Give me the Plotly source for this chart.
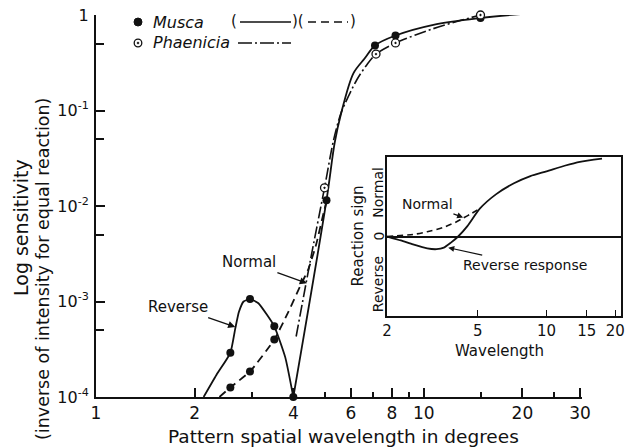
import math
import plotly.graph_objects as go

# ---------------- data ----------------
# Musca, solid curve (reverse bump, notch at 4 deg, then normal rise)
musca_solid_x = [2.13, 2.33, 2.57, 2.66, 2.73, 2.82, 2.95, 3.13, 3.32, 3.5, 3.78, 4.0,
                 5.05, 5.35, 5.6, 6.1, 6.6, 7.1, 8.2, 10.7, 14.9, 20.3, 23.0]
musca_solid_y = [1.0e-4, 1.7e-4, 2.9e-4, 5.2e-4, 7.8e-4, 1.0e-3, 1.06e-3, 9.6e-4, 7.3e-4, 5.5e-4, 2.6e-4, 1.0e-4,
                 1.15e-2, 4.6e-2, 9.4e-2, 0.245, 0.35, 0.48, 0.61, 0.79, 0.93, 1.03, 1.06]
notch_index = 11   # the sharp notch of the solid curve at 4 deg

# Musca, dashed "normal" curve
musca_dashed_x = [2.38, 2.57, 2.95, 3.5, 3.85, 4.2, 4.45, 4.7, 4.95, 5.08]
musca_dashed_y = [1.0e-4, 1.26e-4, 1.85e-4, 4.0e-4, 7.6e-4, 1.45e-3, 2.2e-3, 4.0e-3, 8.5e-3, 1.2e-2]

# Phaenicia, dash-dot curve
phaenicia_x = [4.08, 4.5, 4.98, 5.3, 5.6, 6.25, 6.7, 7.15, 8.2, 10.7, 13.0, 14.9]
phaenicia_y = [4.3e-4, 2.6e-3, 1.55e-2, 4.8e-2, 0.095, 0.21, 0.30, 0.39, 0.51, 0.72, 0.88, 1.0]

# measured points
musca_dot_x = [2.57, 2.95, 3.5, 4.0, 2.57, 2.95, 3.5, 5.05, 7.1, 8.2, 14.9, 20.3]
musca_dot_y = [2.9e-4, 1.06e-3, 5.5e-4, 1.0e-4, 1.26e-4, 1.85e-4, 4.0e-4, 1.15e-2, 0.48, 0.61, 0.93, 1.04]
phaenicia_dot_x = [4.98, 7.15, 8.2, 14.9]
phaenicia_dot_y = [1.55e-2, 0.39, 0.51, 1.0]

# inset: reaction sign vs wavelength
inset_rev_x = [2.0, 2.3, 2.6, 3.0, 3.3, 3.55, 3.8, 4.1, 4.5, 5.1, 6.0, 7.2, 8.5, 10.0, 12.0, 14.0, 17.5]
inset_rev_y = [0.0, -0.05, -0.10, -0.15, -0.16, -0.14, -0.08, 0.0, 0.13, 0.35, 0.53, 0.67, 0.76, 0.82, 0.89, 0.94, 0.98]
inset_norm_x = [2.0, 2.6, 3.0, 3.5, 4.0, 4.3, 4.7, 5.1]
inset_norm_y = [0.0, 0.025, 0.06, 0.11, 0.18, 0.23, 0.29, 0.35]

# tick labels
main_x_ticks = [1, 2, 4, 6, 8, 10, 20, 30]
main_x_minor = [3, 5, 7, 9, 15, 25]
main_y_ticks = [1e-4, 1e-3, 1e-2, 1e-1, 1]
main_y_ticktext = ["10<sup>-4</sup>", "10<sup>-3</sup>", "10<sup>-2</sup>", "10<sup>-1</sup>", "1"]
main_y_minor = [5e-4, 5e-3, 5e-2, 0.5]
inset_x_ticks = [2, 5, 10, 15, 20]

# ---------------- styling ----------------
INK = "#111111"
FONT = "DejaVu Sans"
W_FIG, H_FIG = 634, 447
PL, PR, PT, PB = 96, 625, 15, 397          # plot-area pixel box
PW, PH = PR - PL, PB - PT


def pxx(px):
    return (px - PL) / PW


def pxy(py):
    return (PB - py) / PH


fig = go.Figure()

# solid curve drawn in two smooth pieces that meet at the sharp notch
fig.add_trace(go.Scatter(x=musca_solid_x[:notch_index + 1], y=musca_solid_y[:notch_index + 1], mode="lines",
                         line=dict(color=INK, width=1.8, shape="spline", smoothing=0.5),
                         cliponaxis=False, showlegend=False))
fig.add_trace(go.Scatter(x=musca_solid_x[notch_index:], y=musca_solid_y[notch_index:], mode="lines",
                         line=dict(color=INK, width=1.8, shape="spline", smoothing=0.9),
                         cliponaxis=False, showlegend=False))
fig.add_trace(go.Scatter(x=musca_dashed_x, y=musca_dashed_y, mode="lines",
                         line=dict(color=INK, width=1.8, dash="8px,5px", shape="spline", smoothing=0.5),
                         cliponaxis=False, showlegend=False))
fig.add_trace(go.Scatter(x=phaenicia_x, y=phaenicia_y, mode="lines",
                         line=dict(color=INK, width=1.6, dash="12px,3px,2px,3px", shape="spline", smoothing=0.8),
                         cliponaxis=False, showlegend=False))
fig.add_trace(go.Scatter(x=musca_dot_x, y=musca_dot_y, mode="markers",
                         marker=dict(color=INK, size=8, symbol="circle"), cliponaxis=False, showlegend=False))
fig.add_trace(go.Scatter(x=phaenicia_dot_x, y=phaenicia_dot_y, mode="markers",
                         marker=dict(color="white", size=8, symbol="circle-dot", line=dict(color=INK, width=1.3)),
                         cliponaxis=False, showlegend=False))

# inset traces
fig.add_trace(go.Scatter(x=inset_rev_x, y=inset_rev_y, mode="lines", xaxis="x2", yaxis="y2",
                         line=dict(color=INK, width=1.8, shape="spline", smoothing=0.6), showlegend=False))
fig.add_trace(go.Scatter(x=inset_norm_x, y=inset_norm_y, mode="lines", xaxis="x2", yaxis="y2",
                         line=dict(color=INK, width=1.6, dash="6px,4px", shape="spline", smoothing=0.6),
                         showlegend=False))

fig.update_layout(
    width=W_FIG, height=H_FIG,
    margin=dict(l=PL, r=W_FIG - PR, t=PT, b=H_FIG - PB, autoexpand=False),
    paper_bgcolor="white", plot_bgcolor="white",
    font=dict(family=FONT, color=INK),
    xaxis=dict(type="log", range=[0, math.log10(30.4)], domain=[0, pxx(582)], anchor="y",
               showline=True, linecolor=INK, linewidth=2, showgrid=False, zeroline=False,
               ticks="inside", tickvals=main_x_ticks, ticktext=[str(v) for v in main_x_ticks],
               ticklen=9, tickwidth=1.5, tickcolor=INK, tickfont=dict(size=17, family=FONT),
               ticklabelstandoff=0,
               minor=dict(tickmode="array", tickvals=main_x_minor, ticks="inside", ticklen=5,
                          tickwidth=1.5, tickcolor=INK, showgrid=False)),
    yaxis=dict(type="log", range=[-4, 0], domain=[0, 1], anchor="x",
               showline=True, linecolor=INK, linewidth=2, showgrid=False, zeroline=False,
               ticks="inside", tickvals=main_y_ticks, ticktext=main_y_ticktext,
               ticklen=9, tickwidth=1.5, tickcolor=INK, tickfont=dict(size=16, family=FONT),
               ticklabelstandoff=2,
               minor=dict(tickmode="array", tickvals=main_y_minor, ticks="inside", ticklen=8,
                          tickwidth=1.5, tickcolor=INK, showgrid=False)),
    xaxis2=dict(type="log", range=[math.log10(2), math.log10(21.2)], domain=[pxx(387), pxx(621)], anchor="y2",
                showline=True, mirror=True, linecolor=INK, linewidth=1.6, showgrid=False, zeroline=False,
                ticks="inside", tickvals=inset_x_ticks, ticktext=[str(v) for v in inset_x_ticks],
                ticklen=6, tickwidth=1.4, tickcolor=INK, tickfont=dict(size=15, family=FONT),
                ticklabelstandoff=0),
    yaxis2=dict(range=[-1, 1], domain=[pxy(316), pxy(157)], anchor="x2",
                showline=True, mirror=True, linecolor=INK, linewidth=1.6, showgrid=False,
                zeroline=True, zerolinecolor=INK, zerolinewidth=1.5,
                showticklabels=False, ticks=""),
)

ann = []
# axis titles
ann.append(dict(text="Pattern spatial wavelength in degrees", xref="paper", yref="paper",
                x=pxx(343), y=pxy(436), xanchor="center", yanchor="middle",
                showarrow=False, font=dict(size=18.5)))
ann.append(dict(text="Log sensitivity", xref="paper", yref="paper",
                x=pxx(21), y=pxy(228), xanchor="center", yanchor="middle", textangle=-90,
                showarrow=False, font=dict(size=19)))
ann.append(dict(text="(inverse of intensity for equal reaction)", xref="paper", yref="paper",
                x=pxx(43), y=pxy(269), xanchor="center", yanchor="middle", textangle=-90,
                showarrow=False, font=dict(size=17.5)))

# main-curve labels with arrows
ann.append(dict(text="Reverse", xref="x", yref="y", x=math.log10(2.66), y=math.log10(5.4e-4),
                ax=-57, ay=-20, showarrow=True, arrowhead=2, arrowsize=1.1, arrowwidth=1.3,
                arrowcolor=INK, standoff=0, font=dict(size=15)))
ann.append(dict(text="Normal", xref="x", yref="y", x=math.log10(4.4), y=math.log10(1.55e-3),
                ax=-58, ay=-21, showarrow=True, arrowhead=2, arrowsize=1.1, arrowwidth=1.3,
                arrowcolor=INK, standoff=0, font=dict(size=15)))

# inset labels
ann.append(dict(text="Normal", xref="x2", yref="y2", x=math.log10(4.31), y=0.24,
                ax=-36, ay=-13, showarrow=True, arrowhead=2, arrowsize=1.0, arrowwidth=1.2,
                arrowcolor=INK, standoff=0, font=dict(size=14)))
ann.append(dict(text="Reverse response", xref="x2", yref="y2", x=math.log10(3.71), y=-0.14,
                ax=77, ay=17, showarrow=True, arrowhead=2, arrowsize=1.0, arrowwidth=1.2,
                arrowcolor=INK, standoff=0, font=dict(size=14)))
ann.append(dict(text="Wavelength", xref="x2 domain", yref="y2 domain", x=0.48, y=0,
                yshift=-35, xanchor="center", yanchor="middle", showarrow=False, font=dict(size=15)))
ann.append(dict(text="Reaction sign", xref="x2 domain", yref="y2", x=0, y=0, xshift=-30,
                xanchor="center", yanchor="middle", textangle=-90, showarrow=False, font=dict(size=15)))
for txt, yv in [("Normal", 0.55), ("0", 0.0), ("Reverse", -0.6)]:
    ann.append(dict(text=txt, xref="x2 domain", yref="y2", x=0, y=yv, xshift=-9,
                    xanchor="center", yanchor="middle", textangle=-90, showarrow=False,
                    font=dict(size=14)))

# key (legend) text
ann.append(dict(text="<i>Musca</i>", xref="paper", yref="paper", x=pxx(151), y=pxy(22),
                xanchor="left", yanchor="middle", showarrow=False, font=dict(size=16)))
ann.append(dict(text="<i>Phaenicia</i>", xref="paper", yref="paper", x=pxx(151), y=pxy(43),
                xanchor="left", yanchor="middle", showarrow=False, font=dict(size=16)))
for txt, px in [("(", 234), (")(", 298), (")", 353)]:
    ann.append(dict(text=txt, xref="paper", yref="paper", x=pxx(px), y=pxy(21),
                    xanchor="center", yanchor="middle", showarrow=False, font=dict(size=15)))
fig.update_layout(annotations=ann)

shapes = []
# key symbols
shapes.append(dict(type="circle", xref="paper", yref="paper", xsizemode="pixel", ysizemode="pixel",
                   xanchor=pxx(138), yanchor=pxy(22), x0=-4, x1=4, y0=-4, y1=4,
                   fillcolor=INK, line=dict(color=INK, width=1)))
shapes.append(dict(type="circle", xref="paper", yref="paper", xsizemode="pixel", ysizemode="pixel",
                   xanchor=pxx(138), yanchor=pxy(43), x0=-3.8, x1=3.8, y0=-3.8, y1=3.8,
                   fillcolor="white", line=dict(color=INK, width=1.3)))
shapes.append(dict(type="circle", xref="paper", yref="paper", xsizemode="pixel", ysizemode="pixel",
                   xanchor=pxx(138), yanchor=pxy(43), x0=-1, x1=1, y0=-1, y1=1,
                   fillcolor=INK, line=dict(color=INK, width=0.5)))
shapes.append(dict(type="line", xref="paper", yref="paper", x0=pxx(240), x1=pxx(291), y0=pxy(22), y1=pxy(22),
                   line=dict(color=INK, width=1.6)))
shapes.append(dict(type="line", xref="paper", yref="paper", x0=pxx(308), x1=pxx(348), y0=pxy(22), y1=pxy(22),
                   line=dict(color=INK, width=1.6, dash="8px,5px")))
shapes.append(dict(type="line", xref="paper", yref="paper", x0=pxx(238), x1=pxx(291), y0=pxy(43), y1=pxy(43),
                   line=dict(color=INK, width=1.6, dash="14px,3px,2px,3px")))
fig.update_layout(shapes=shapes)

fig.write_html("out.html", config={"displayModeBar": False},
               post_script="document.body.style.margin='0px';")
